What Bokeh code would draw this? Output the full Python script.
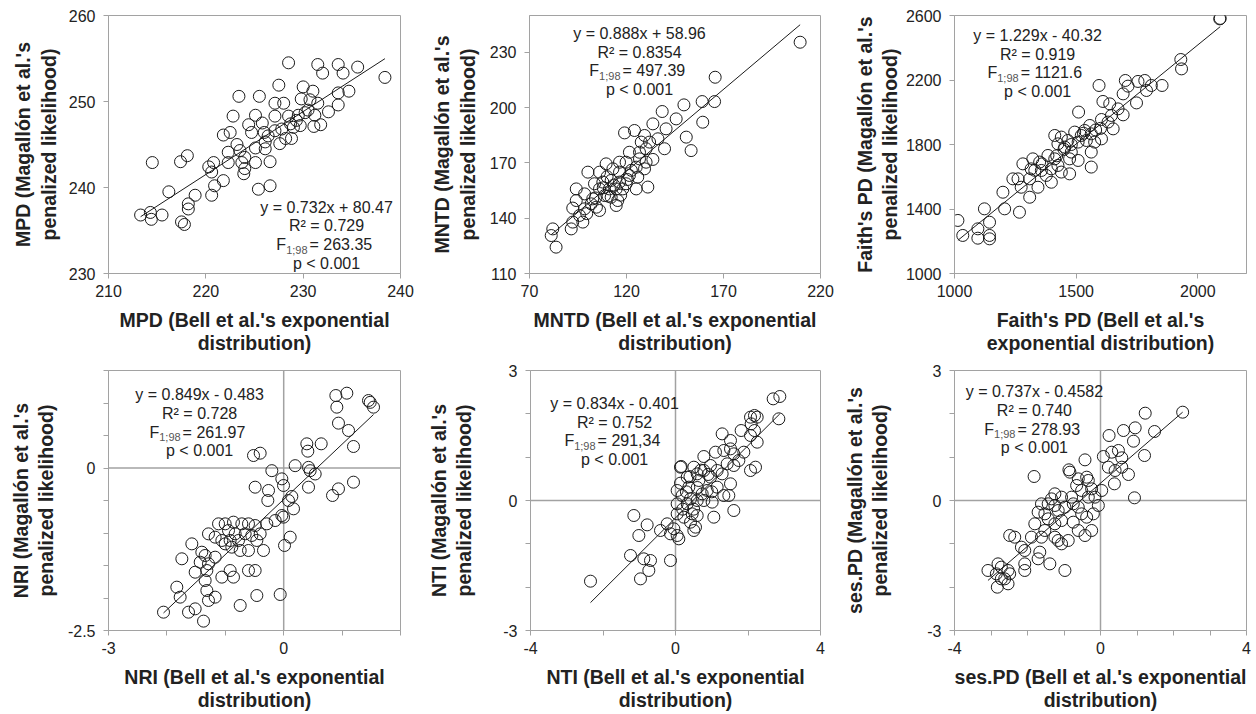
import numpy as np
from bokeh.plotting import figure
from bokeh.models import Range1d, FixedTicker, Label, Span
from bokeh.layouts import column, row
from bokeh.embed import file_html
from bokeh.resources import INLINE

# ---------------- data ----------------
mpd_bell = [228.5, 231.5, 233.6, 232.0, 234.1, 235.6, 238.4, 227.5, 230.0, 231.0, 233.6, 234.7,
            223.4, 225.5, 227.1, 228.0, 229.8, 230.7, 231.5, 232.6, 233.6, 222.8, 225.1, 224.4,
            225.8, 227.1, 228.5, 229.5, 230.2, 231.2, 231.8, 231.1, 221.8, 222.5, 224.7, 226.0,
            227.1, 227.8, 228.7, 229.0, 229.7, 228.2, 228.8, 227.6, 223.2, 223.5, 225.1, 226.1,
            226.1, 222.3, 224.0, 222.3, 223.7, 224.0, 225.1, 226.6, 220.3, 220.8, 220.6, 223.9,
            214.5, 217.4, 218.1, 221.8, 220.9, 220.6, 225.4, 226.6, 216.2, 218.9, 218.2, 218.2,
            213.3, 214.3, 214.4, 215.5, 217.5, 217.8, 229.3, 230.5, 226.4]
mpd_mag = [254.5, 254.3, 254.3, 253.3, 253.3, 254.0, 252.8, 251.9, 251.7, 251.2, 251.0, 251.2,
           250.6, 250.6, 249.8, 249.8, 250.3, 250.2, 249.8, 248.8, 249.6, 248.3, 248.4, 247.3,
           247.5, 248.3, 248.3, 248.4, 248.7, 248.4, 247.3, 247.1, 246.1, 246.4, 246.4, 246.4,
           246.6, 246.8, 247.4, 247.0, 247.2, 245.7, 245.7, 245.1, 245.0, 244.3, 244.6, 245.3,
           244.5, 244.1, 243.5, 242.9, 242.9, 242.2, 242.9, 243.0, 242.4, 242.9, 241.8, 241.6,
           242.9, 243.0, 243.7, 240.8, 240.2, 239.1, 239.8, 240.2, 239.5, 239.1, 238.1, 237.5,
           236.8, 237.1, 236.3, 236.8, 236.0, 235.7, 247.8, 249.0, 246.0]

mntd_bell = [209.5, 165.7, 159.0, 165.4, 149.6, 159.3, 138.4, 145.6, 150.8, 153.3, 139.6,
             133.6, 140.4, 119.0, 124.1, 129.3, 127.6, 131.9, 136.2, 126.7, 130.1, 121.5,
             119.8, 116.4, 109.5, 126.7, 130.1, 133.6, 129.3, 125.0, 100.1, 106.1, 113.0,
             116.4, 121.5, 125.8, 107.8, 112.1, 116.4, 119.8, 106.1, 111.2, 114.7, 118.1,
             131.0, 125.0, 94.1, 103.5, 98.4, 94.1, 102.6, 108.7, 112.1, 115.5, 101.8, 114.7,
             92.3, 98.4, 106.1, 95.8, 92.3, 97.5, 91.5, 82.0, 81.2, 83.7,
             104.0, 108.0, 110.5, 113.5, 117.0, 120.5, 122.5, 110.0, 104.5, 99.5]
mntd_mag = [235.5, 216.5, 203.3, 203.3, 201.5, 192.1, 197.9, 193.9, 184.0, 176.7, 177.7,
            191.2, 188.5, 186.3, 187.6, 184.9, 181.3, 181.3, 183.1, 175.8, 177.7, 175.8,
            170.4, 170.4, 169.5, 172.2, 170.4, 171.9, 166.8, 167.7, 165.0, 165.0, 166.8,
            165.0, 163.2, 162.3, 159.6, 160.5, 159.6, 158.7, 155.9, 155.9, 155.9, 155.9,
            156.9, 155.9, 155.9, 158.7, 153.2, 149.6, 150.5, 152.3, 151.4, 149.6, 147.8, 146.9,
            145.5, 145.1, 144.2, 141.5, 137.9, 137.9, 134.2, 134.2, 130.6, 124.3,
            151.0, 156.5, 152.0, 158.0, 152.5, 161.0, 166.0, 162.5, 146.0, 142.5]

faith_bell = [2090, 2092, 1930, 1933, 1702, 1754, 1782, 1809, 1853, 1713, 1748, 1789,
              1594, 1610, 1638, 1693, 1672, 1693, 1645, 1631, 1604, 1652, 1510, 1556, 1535,
              1562, 1521, 1494, 1576, 1542, 1508, 1604, 1412, 1439, 1466, 1425, 1453, 1480,
              1508, 1473, 1562, 1562, 1473, 1322, 1350, 1384, 1412, 1315, 1357, 1398, 1425,
              1281, 1261, 1309, 1343, 1377, 1398, 1439, 1240, 1274, 1309, 1199, 1206, 1267,
              1123, 1144, 1014, 1034, 1096, 1096, 1144, 1144,
              1530, 1580, 1450, 1420, 1360, 1330, 1600, 1480]
faith_mag = [2579, 2582, 2327, 2269, 2197, 2191, 2197, 2166, 2166, 2162, 2058, 2135,
             2166, 2067, 2052, 2114, 2021, 1984, 1980, 1939, 1955, 1897, 2001, 1918, 1887,
             1866, 1856, 1877, 1815, 1825, 1815, 1835, 1856, 1846, 1825, 1804, 1784, 1753,
             1701, 1711, 1753, 1660, 1618, 1711, 1691, 1732, 1711, 1649, 1639, 1649, 1670,
             1680, 1587, 1587, 1535, 1608, 1566, 1629, 1587, 1535, 1473, 1504, 1401, 1380,
             1401, 1318, 1329, 1236, 1277, 1219, 1236, 1215,
             1870, 1890, 1770, 1730, 1680, 1640, 1900, 1800]

nri_bell = [0.893, 1.081, 1.452, 1.481, 1.538, 0.910, 0.938, 1.110, 1.195, 0.396, 0.642, 0.413,
            -0.517, -0.403, -0.203, 0.196, 0.425, 0.453, 0.539, -0.032, -0.003, -0.489, -0.260,
            -0.272, 0.139, 0.425, 0.082, 0.938, 0.836, 1.195, -0.032, -0.003, 0.168, -0.146,
            -0.289, -1.116, -1.002, -0.860, -0.717, -0.603, -0.489, -0.945, -0.831, -0.660,
            -0.546, -0.403, -1.288, -1.174, -1.059, -0.917, -0.774, -1.002, -0.888, -0.745,
            -0.603, -0.460, -0.346, 0.111, 0.014, -1.573, -1.402, -1.345, -1.174, -1.744,
            -1.430, -1.288, -1.516, -1.316, -1.345, -1.059, -0.917, -0.860, -0.603, -0.489,
            -1.830, -1.773, -1.316, -1.174, -1.288, -0.745, -0.460, -0.060, -2.058, -1.630,
            -1.516, -1.373]
nri_mag = [1.115, 1.151, 1.038, 1.010, 0.936, 0.936, 0.690, 0.577, 0.331, 0.372, 0.372, 0.259,
           0.192, 0.228, -0.041, 0.036, 0.010, -0.041, -0.092, -0.167, -0.269, -0.295, -0.346,
           -0.500, -0.438, -0.295, -0.500, -0.321, -0.423, -0.218, -0.731, -0.756, -0.628,
           -0.808, -0.859, -0.859, -0.859, -0.833, -0.859, -0.859, -0.885, -0.962, -1.013,
           -1.013, -1.038, -1.013, -1.013, -1.064, -1.115, -1.115, -1.115, -1.167, -1.218,
           -1.269, -1.269, -1.115, -1.269, -1.064, -1.192, -1.167, -1.295, -1.346, -1.372,
           -1.397, -1.449, -1.474, -1.603, -1.577, -1.731, -1.679, -1.577, -1.679, -1.577,
           -1.577, -1.833, -1.987, -1.885, -1.987, -2.038, -2.115, -1.962, -1.946, -2.218,
           -2.218, -2.167, -2.356]

nti_bell = [2.694, 2.878, 2.851, 2.069, 2.179, 2.253, 2.087, 2.179, 2.069, 2.253, 1.811, 1.287,
            1.517, 1.103, 1.333, 1.517, 1.609, 1.885, 1.747, 1.609, 2.069, 2.207, 1.425, 0.782,
            0.966, 1.149, 1.287, 0.782, 0.598, 0.506, 0.322, 0.138, 0.644, 0.966, 1.517, 1.471,
            1.149, 0.874, 0.736, 0.138, 0.156, 0.046, 0.184, 0.368, 0.414, 0.322, 0.046, 0.598,
            0.782, 1.011, 1.333, 0.046, 0.230, 0.460, 0.598, 0.414, 0.552, 0.506, 1.057, 1.609,
            -0.230, -0.046, -0.138, 0.046, 0.092, -0.414, -1.149, -0.782, -1.011, -1.241,
            -0.874, -0.690, -0.736, -0.966, -0.138, -2.345,
            0.30, 0.60, 0.90, 0.50, 0.20, 0.70, 1.00, 0.40]
nti_mag = [2.346, 2.400, 1.885, 1.923, 1.962, 1.923, 1.769, 1.615, 1.500, 1.346, 1.615, 1.538,
           1.385, 1.115, 1.154, 1.192, 1.077, 1.115, 0.923, 0.808, 0.692, 0.769, 0.846, 1.015,
           0.808, 0.692, 0.615, 0.692, 0.615, 0.769, 0.538, 0.400, 0.462, 0.538, 0.385, 0.115,
           0.308, 0.231, 0.154, 0.769, 0.785, 0.231, 0.115, 0.308, 0.038, -0.077, -0.077,
           0.000, 0.000, -0.038, 0.115, -0.308, -0.385, -0.308, -0.346, -0.500, -0.615, -0.692,
           -0.385, -0.231, -0.538, -0.654, -0.769, -0.808, -0.885, -0.692, -0.346, -0.562,
           -0.808, -1.269, -1.346, -1.385, -1.615, -1.808, -1.385, -1.862,
           0.20, 0.30, 0.60, -0.20, -0.20, 0.70, 0.20, 0.55]

sespd_bell = [2.251, 1.225, 1.481, 0.950, 0.629, 0.904, 0.235, 1.206, 0.079, 0.308, 0.491, 0.583,
              0.216, 0.400, 0.583, 0.766, 0.381, 0.033, 0.931, -1.819, -0.425, -0.865, -0.838,
              -0.609, -0.379, -0.334, -0.654, -0.517, -0.242, -0.150, -0.334, -0.059, -0.196,
              -0.792, -0.746, -0.609, -0.517, -0.379, -1.250, -1.067, -1.342, -1.434, -1.617,
              -1.250, -1.159, -0.975, -1.709, -1.525, -1.434, -1.250, -1.067, -1.800, -0.746,
              -0.609, -0.425, -0.242, -1.525, -1.250, -1.159, -1.067, -0.884, -1.617, -1.892,
              -2.488, -2.350, -2.167, -2.075, -1.663, -1.709, -1.388, -2.075, -2.075, -0.975,
              -3.083, -2.808, -2.717, -2.533, -2.854, -2.625, -2.533, -2.827, -2.488, -2.717]
sespd_mag = [2.038, 2.015, 1.592, 1.677, 1.615, 1.369, 1.500, 1.038, 1.015, 1.115, 1.154, 0.985,
             0.769, 0.692, 0.769, 0.600, 0.385, 0.231, 0.062, 0.554, 0.938, 0.708, 0.654, 0.500,
             0.538, 0.462, 0.346, 0.231, 0.269, 0.077, 0.077, -0.115, -0.308, 0.077, -0.077,
             -0.154, -0.308, -0.385, 0.154, 0.077, 0.038, -0.077, -0.077, -0.115, -0.231,
             -0.154, -0.269, -0.308, -0.423, -0.538, -0.462, -0.538, -0.500, -0.692, -0.808,
             -0.692, -0.692, -0.846, -0.923, -1.000, -0.923, -0.846, -0.846, -0.808, -0.846,
             -1.077, -1.154, -1.192, -1.346, -1.462, -1.462, -1.615, -1.615, -1.615, -1.462,
             -1.538, -1.615, -1.692, -1.808, -1.923, -2.000, -1.692, -1.808]

# trend lines as drawn
trend_slope = [0.732, 0.888, 1.229, 0.849, 0.834, 0.728]
trend_icpt = [80.47, 58.96, -40.32, -0.483, -0.401, 0.40]

eq_texts = ["y = 0.732x + 80.47", "y = 0.888x + 58.96", "y = 1.229x - 40.32",
            "y = 0.849x - 0.483", "y = 0.834x - 0.401", "y = 0.737x - 0.4582"]
r2_texts = ["R² = 0.729", "R² = 0.8354", "R² = 0.919", "R² = 0.728", "R² = 0.752", "R² = 0.740"]
f_values = ["263.35", "497.39", "1121.6", "261.97", "291,34", "278.93"]
f_sub = "1;98"
p_text = "p < 0.001"

x_titles = ["MPD (Bell et al.'s exponential\ndistribution)",
            "MNTD (Bell et al.'s exponential\ndistribution)",
            "Faith's PD (Bell et al.'s\nexponential distribution)",
            "NRI (Bell et al.'s exponential\ndistribution)",
            "NTI (Bell et al.'s exponential\ndistribution)",
            "ses.PD (Bell et al.'s exponential\ndistribution)"]
y_titles = ["MPD (Magallón et al.'s\npenalized likelihood)",
            "MNTD (Magallón et al.'s\npenalized likelihood)",
            "Faith's PD (Magallón et al.'s\npenalized likelihood)",
            "NRI (Magallón et al.'s\npenalized likelihood)",
            "NTI (Magallón et al.'s\npenalized likelihood)",
            "ses.PD (Magallón et al.'s\npenalized likelihood)"]

x_ranges = [(210, 240), (70, 220), (1000, 2200), (-3, 2), (-4, 4), (-4, 4)]
y_ranges = [(230, 260), (110, 250), (1000, 2600), (-2.5, 1.5), (-3, 3), (-3, 3)]
x_ticks = [[210, 220, 230, 240], [70, 120, 170, 220], [1000, 1500, 2000],
           [-3, -2, -1, 0, 1, 2], [-4, -2, 0, 2, 4], [-4, -3, -2, -1, 0, 1, 2, 3, 4]]
x_tick_labels = [["210", "220", "230", "240"], ["70", "120", "170", "220"], ["1000", "1500", "2000"],
                 ["-3", "", "", "0", "", ""], ["-4", "", "0", "", "4"],
                 ["-4", "", "", "", "0", "", "", "", "4"]]
y_ticks = [[230, 240, 250, 260], [110, 140, 170, 200, 230], [1000, 1400, 1800, 2200, 2600],
           [-2.5, -2, -1.5, -1, -0.5, 0, 0.5, 1, 1.5], [-3, -2, -1, 0, 1, 2, 3],
           [-3, -2, -1, 0, 1, 2, 3]]
y_tick_labels = [["230", "240", "250", "260"], ["110", "140", "170", "200", "230"],
                 ["1000", "1400", "1800", "2200", "2600"],
                 ["-2.5", "", "", "", "", "0", "", "", ""], ["-3", "", "", "0", "", "", "3"],
                 ["-3", "", "", "0", "", "", "3"]]

xs_all = [mpd_bell, mntd_bell, faith_bell, nri_bell, nti_bell, sespd_bell]
ys_all = [mpd_mag, mntd_mag, faith_mag, nri_mag, nti_mag, sespd_mag]

# ---------------- layout / style ----------------
FONT = "Liberation Sans"
TXT = "#222222"
GRAY = "#a2a2a2"
ANN_X = [232.4, 126.7, 1341.6, -1.44, -1.68, -1.81]
ANN_Y = [237.7, 240.2, 2476, 1.126, 2.24, 2.51]
LINE_PX = 18.7
FS = 16
SUB_FS = 11

# (width, height, border left, right, top, bottom, y-title standoff)
GEOM = [(420, 357, 108, 20, 15, 84, 6), (420, 357, 109, 20, 15, 84, 8), (416, 357, 114, 10, 15, 84, 2),
        (420, 357, 108, 20, 13, 84, 8), (420, 357, 110, 20, 13, 84, 25), (416, 357, 114, 10, 13, 84, 33)]

AW = {' ': 0.278, '=': 0.584, '.': 0.278, ',': 0.278, ';': 0.278, 'F': 0.611, '<': 0.584,
      '-': 0.333, '+': 0.584, 'x': 0.5, 'y': 0.5, 'p': 0.556, 'R': 0.722, '²': 0.333}


def tw(s, fs):
    return sum(AW.get(c, 0.556) for c in s) * fs


def style_axis(ax, ticks, labels, title, tick_standoff, title_standoff, line_h):
    ax.ticker = FixedTicker(ticks=ticks, minor_ticks=[])
    ax.major_label_overrides = {t: l for t, l in zip(ticks, labels)}
    ax.axis_line_color = GRAY
    ax.axis_line_width = 1
    ax.major_tick_line_color = GRAY
    ax.major_tick_in = 0
    ax.major_tick_out = 5
    ax.minor_tick_line_color = None
    ax.major_label_text_font = FONT
    ax.major_label_text_font_size = f"{FS}px"
    ax.major_label_text_color = TXT
    ax.major_label_standoff = tick_standoff
    ax.axis_label = title
    ax.axis_label_text_font = FONT
    ax.axis_label_text_font_style = "bold"
    ax.axis_label_text_font_size = "19.5px"
    ax.axis_label_text_color = TXT
    ax.axis_label_text_line_height = line_h
    ax.axis_label_standoff = title_standoff


def make_panel(i):
    W, H, bl, br, bt, bb, ystand = GEOM[i]
    fw, fh = W - bl - br, H - bt - bb
    x0, x1 = x_ranges[i]
    y0, y1 = y_ranges[i]
    p = figure(width=W, height=H, x_range=Range1d(x0, x1), y_range=Range1d(y0, y1),
               output_backend="svg", toolbar_location=None,
               min_border_left=bl, min_border_right=br, min_border_top=bt, min_border_bottom=bb,
               background_fill_color="white", border_fill_color="white")
    p.grid.visible = False
    p.outline_line_color = GRAY
    p.outline_line_width = 1
    style_axis(p.xaxis[0], x_ticks[i], x_tick_labels[i], x_titles[i], 6, 9, 1.05)
    style_axis(p.yaxis[0], y_ticks[i], y_tick_labels[i], y_titles[i], 8, ystand, 1.15)

    if i >= 3:
        p.add_layout(Span(location=0, dimension="width", line_color=GRAY, line_width=1.5, level="underlay"))
        p.add_layout(Span(location=0, dimension="height", line_color=GRAY, line_width=1.5, level="underlay"))

    xs, ys = xs_all[i], ys_all[i]
    p.scatter(xs, ys, size=12, marker="circle", fill_color=None, line_color="#1a1a1a", line_width=1)

    xa, xb = min(xs), max(xs)
    s, b = trend_slope[i], trend_icpt[i]
    p.line([xa, xb], [s * xa + b, s * xb + b], line_color="#1a1a1a", line_width=1)

    dy = LINE_PX * (y1 - y0) / fh
    ax_, ay_ = ANN_X[i], ANN_Y[i]
    common = dict(text_font=FONT, text_font_size=f"{FS}px", text_color=TXT, text_baseline="middle")
    p.add_layout(Label(x=ax_, y=ay_, text=eq_texts[i], text_align="center", **common))
    p.add_layout(Label(x=ax_, y=ay_ - dy, text=r2_texts[i], text_align="center", **common))
    rest = " = " + f_values[i]
    gap = 2
    total = tw("F", FS) + tw(f_sub, SUB_FS) + gap + tw(rest, FS)
    start = -total / 2
    p.add_layout(Label(x=ax_, y=ay_ - 2 * dy, x_offset=start, text="F", text_align="left", **common))
    p.add_layout(Label(x=ax_, y=ay_ - 2 * dy - 5 * (y1 - y0) / fh, x_offset=start + tw("F", FS),
                       text=f_sub, text_align="left", text_font=FONT, text_font_size=f"{SUB_FS}px",
                       text_color="#555555", text_baseline="middle"))
    p.add_layout(Label(x=ax_, y=ay_ - 2 * dy, x_offset=start + tw("F", FS) + tw(f_sub, SUB_FS) + gap,
                       text=rest, text_align="left", **common))
    p.add_layout(Label(x=ax_, y=ay_ - 3 * dy, text=p_text, text_align="center", **common))
    return p


figs = [make_panel(i) for i in range(6)]
layout = column(row(figs[0], figs[1], figs[2]), row(figs[3], figs[4], figs[5]))

open("out.html", "w").write(file_html(layout, INLINE))
